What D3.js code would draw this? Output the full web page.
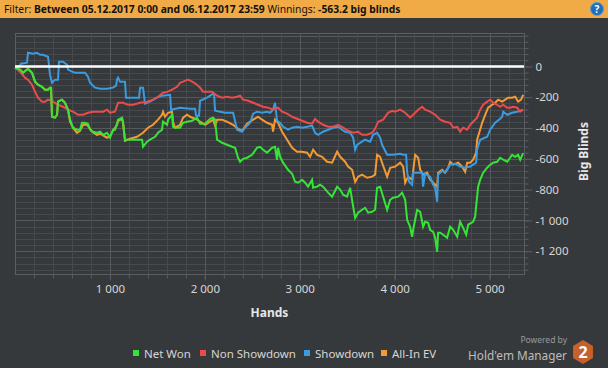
<!DOCTYPE html>
<html>
<head>
<meta charset="utf-8">
<script src="https://cdn.jsdelivr.net/npm/d3@7"></script>
<style>
  body { margin: 0; background: #36393c; }
  svg { display: block; font-family: "Noto Sans", sans-serif; }
</style>
</head>
<body>
<svg id="chart" width="608" height="368"></svg>
<script>
// cumulative big blinds, [hands, bb]
var netWon = [[0,-8],[53,-21],[85,-41],[137,-15],[179,-41],[211,-99],[242,-119],[285,-132],[316,-151],[348,-151],[369,-138],[380,-138],[390,-327],[422,-333],[443,-314],[453,-229],[495,-216],[527,-236],[559,-281],[580,-346],[611,-398],[653,-411],[685,-411],[706,-366],[738,-366],[769,-372],[791,-411],[822,-424],[864,-431],[896,-424],[928,-444],[970,-431],[1001,-463],[1033,-411],[1054,-411],[1075,-372],[1086,-346],[1128,-333],[1138,-359],[1159,-476],[1191,-476],[1244,-476],[1296,-476],[1339,-476],[1349,-522],[1391,-489],[1423,-476],[1476,-457],[1507,-431],[1549,-411],[1560,-359],[1602,-379],[1613,-346],[1655,-314],[1665,-392],[1686,-398],[1739,-398],[1771,-366],[1813,-359],[1866,-353],[1918,-333],[1950,-372],[2003,-372],[2055,-340],[2087,-333],[2108,-346],[2129,-476],[2182,-496],[2234,-509],[2287,-522],[2319,-528],[2350,-593],[2372,-619],[2403,-600],[2445,-593],[2498,-574],[2551,-528],[2582,-522],[2614,-541],[2656,-560],[2709,-528],[2740,-522],[2761,-606],[2772,-528],[2793,-587],[2825,-625],[2877,-671],[2920,-697],[2951,-749],[2983,-755],[3025,-736],[3057,-755],[3088,-781],[3130,-736],[3141,-788],[3183,-781],[3215,-768],[3246,-781],[3299,-820],[3341,-846],[3394,-781],[3426,-800],[3457,-833],[3499,-846],[3531,-788],[3563,-911],[3584,-983],[3615,-950],[3657,-931],[3689,-918],[3721,-950],[3763,-944],[3794,-931],[3815,-788],[3847,-781],[3879,-846],[3921,-931],[3953,-866],[3984,-853],[4037,-846],[4079,-820],[4111,-866],[4132,-996],[4163,-1041],[4184,-1106],[4195,-1061],[4216,-996],[4237,-931],[4269,-944],[4290,-1009],[4300,-1041],[4321,-1009],[4353,-1015],[4374,-1061],[4406,-1074],[4427,-1113],[4448,-1204],[4458,-1080],[4480,-1080],[4511,-1093],[4553,-1113],[4585,-1041],[4617,-1061],[4659,-1106],[4690,-1009],[4722,-1048],[4754,-1093],[4775,-1028],[4827,-1009],[4848,-976],[4869,-846],[4880,-781],[4901,-736],[4933,-690],[4975,-658],[5007,-638],[5038,-625],[5080,-619],[5112,-593],[5144,-606],[5186,-619],[5217,-593],[5238,-574],[5270,-587],[5301,-574],[5323,-606],[5354,-563]];

var nonShowdown = [[0,-8],[53,-34],[105,-73],[137,-86],[179,-119],[211,-164],[242,-203],[285,-229],[316,-229],[348,-216],[401,-229],[453,-249],[506,-262],[559,-281],[611,-294],[664,-314],[717,-314],[769,-301],[822,-294],[875,-294],[928,-294],[970,-281],[1001,-301],[1054,-294],[1086,-236],[1138,-236],[1191,-249],[1244,-249],[1318,-236],[1391,-229],[1455,-216],[1507,-197],[1560,-171],[1613,-164],[1655,-151],[1707,-132],[1739,-106],[1771,-99],[1823,-86],[1866,-99],[1918,-119],[1950,-138],[1982,-164],[2024,-164],[2076,-164],[2129,-190],[2182,-203],[2234,-197],[2287,-203],[2340,-197],[2372,-190],[2403,-216],[2456,-223],[2509,-236],[2561,-249],[2614,-262],[2667,-268],[2719,-281],[2772,-268],[2814,-294],[2867,-307],[2920,-327],[2972,-340],[3025,-353],[3078,-366],[3130,-372],[3162,-340],[3193,-359],[3246,-379],[3299,-392],[3352,-392],[3404,-379],[3457,-398],[3510,-418],[3563,-431],[3615,-424],[3657,-444],[3710,-444],[3763,-431],[3794,-405],[3826,-359],[3879,-346],[3931,-301],[3974,-288],[4005,-294],[4058,-281],[4111,-301],[4163,-333],[4195,-314],[4248,-281],[4290,-262],[4321,-281],[4374,-294],[4427,-314],[4480,-346],[4532,-359],[4585,-366],[4617,-398],[4659,-392],[4690,-424],[4722,-398],[4764,-411],[4796,-379],[4827,-359],[4869,-333],[4901,-281],[4933,-249],[4975,-229],[5007,-216],[5038,-236],[5080,-249],[5112,-262],[5144,-249],[5186,-268],[5217,-268],[5249,-262],[5291,-268],[5323,-294],[5354,-281]];

var showdown = [[0,0],[53,5],[63,18],[126,24],[137,89],[190,82],[232,89],[264,76],[295,76],[348,63],[369,-54],[390,-106],[422,-86],[453,-86],[464,31],[506,31],[548,11],[559,-21],[601,-34],[632,-41],[738,-41],[769,-67],[791,-106],[843,-138],[896,-145],[970,-145],[1033,-138],[1065,-125],[1075,-86],[1086,-73],[1107,-99],[1159,-99],[1170,-203],[1244,-203],[1307,-203],[1318,-138],[1349,-138],[1370,-242],[1423,-229],[1497,-203],[1549,-190],[1634,-184],[1644,-281],[1739,-268],[1845,-275],[1897,-275],[1908,-320],[1939,-320],[1950,-223],[2024,-203],[2087,-177],[2098,-184],[2108,-288],[2161,-294],[2213,-301],[2298,-301],[2340,-411],[2393,-424],[2424,-398],[2477,-366],[2509,-307],[2551,-294],[2603,-301],[2656,-294],[2688,-301],[2719,-281],[2740,-236],[2761,-353],[2793,-366],[2825,-392],[2877,-411],[2920,-398],[2972,-392],[3025,-398],[3078,-392],[3130,-385],[3162,-431],[3193,-444],[3246,-424],[3299,-411],[3352,-398],[3404,-392],[3447,-411],[3478,-424],[3531,-431],[3563,-463],[3584,-541],[3605,-509],[3636,-496],[3689,-476],[3742,-489],[3773,-444],[3815,-431],[3847,-463],[3868,-509],[3921,-574],[3984,-574],[4058,-567],[4090,-574],[4121,-574],[4132,-690],[4153,-749],[4184,-768],[4195,-690],[4248,-690],[4290,-690],[4300,-781],[4321,-697],[4374,-716],[4406,-768],[4427,-788],[4448,-879],[4458,-703],[4501,-677],[4532,-690],[4585,-638],[4638,-632],[4690,-651],[4743,-658],[4796,-651],[4827,-638],[4859,-625],[4869,-541],[4901,-476],[4975,-457],[5007,-411],[5059,-366],[5112,-340],[5133,-327],[5144,-294],[5186,-314],[5238,-301],[5291,-294],[5323,-288],[5354,-281]];

var allInEV = [[0,-8],[53,-21],[85,-41],[137,-15],[179,-41],[211,-99],[242,-119],[285,-132],[316,-151],[348,-151],[369,-138],[380,-138],[390,-327],[422,-333],[443,-314],[453,-229],[495,-216],[527,-236],[559,-285],[580,-359],[611,-398],[653,-431],[685,-418],[717,-379],[759,-379],[812,-424],[864,-444],[896,-437],[970,-463],[1001,-450],[1033,-418],[1075,-379],[1086,-353],[1128,-340],[1138,-366],[1159,-483],[1212,-470],[1286,-457],[1349,-431],[1402,-398],[1455,-379],[1507,-346],[1549,-314],[1560,-294],[1581,-327],[1613,-301],[1655,-294],[1665,-359],[1686,-398],[1739,-379],[1771,-333],[1813,-314],[1845,-327],[1918,-346],[1950,-359],[2003,-379],[2055,-359],[2087,-346],[2108,-385],[2129,-346],[2182,-346],[2234,-359],[2298,-379],[2350,-405],[2393,-418],[2445,-372],[2509,-346],[2561,-327],[2603,-346],[2656,-366],[2709,-379],[2719,-424],[2740,-346],[2772,-366],[2814,-424],[2867,-476],[2920,-528],[2972,-554],[3025,-554],[3078,-560],[3109,-587],[3141,-541],[3183,-574],[3236,-587],[3288,-619],[3341,-625],[3394,-554],[3426,-587],[3478,-619],[3510,-651],[3552,-671],[3584,-749],[3615,-716],[3657,-703],[3710,-723],[3763,-716],[3794,-703],[3815,-574],[3847,-587],[3879,-645],[3921,-716],[3953,-658],[4005,-651],[4058,-625],[4090,-651],[4111,-755],[4142,-716],[4184,-736],[4216,-574],[4248,-593],[4269,-671],[4300,-703],[4342,-690],[4374,-736],[4406,-755],[4448,-781],[4458,-690],[4501,-671],[4532,-690],[4564,-658],[4585,-619],[4617,-638],[4669,-625],[4711,-651],[4743,-684],[4764,-625],[4796,-625],[4827,-606],[4859,-560],[4869,-476],[4891,-431],[4922,-366],[4954,-314],[4985,-268],[5028,-249],[5059,-236],[5091,-216],[5133,-229],[5165,-216],[5196,-203],[5238,-203],[5270,-197],[5301,-229],[5333,-216],[5354,-184]];

var seriesNames = ["Net Won", "Non Showdown", "Showdown", "All-In EV"];
var seriesColors = ["#35e535", "#ea4b4b", "#3a9be0", "#f39a35"];
var xTicks = [1000, 2000, 3000, 4000, 5000];
var yTicks = [0, -200, -400, -600, -800, -1000, -1200];

var svg = d3.select("#chart");
var W = 608, H = 368;
var pLeft = 15, pRight = 524, pTop = 33, pBottom = 274;

var x = d3.scaleLinear().domain([0, 5363]).range([pLeft, pRight]);
var y = d3.scaleLinear().domain([-1348, 217]).range([pBottom, pTop]);

var loc = d3.formatLocale({decimal: ".", thousands: " ", grouping: [3], currency: ["", ""], minus: "-"});
var fmt = loc.format(",d");

svg.append("rect").attr("width", W).attr("height", H).attr("fill", "#36393c");

// header bar
svg.append("rect").attr("width", W).attr("height", 18).attr("fill", "#f0aa46");
var head = svg.append("text").attr("x", 4).attr("y", 13).attr("font-size", 10.3).attr("fill", "#111");
head.append("tspan").text("Filter: ");
head.append("tspan").attr("font-weight", "bold").text("Between 05.12.2017 0:00 and 06.12.2017 23:59");
head.append("tspan").text(" Winnings: ");
head.append("tspan").attr("font-weight", "bold").text("-563.2 big blinds");
svg.append("circle").attr("cx", 597).attr("cy", 9).attr("r", 6.5).attr("fill", "#1f6fb8").attr("stroke", "#5a9ad6").attr("stroke-width", 1);
svg.append("text").attr("x", 597).attr("y", 12.5).attr("text-anchor", "middle").attr("font-size", 10).attr("font-weight", "bold").attr("fill", "#fff").text("?");

// grid
var grid = svg.append("g");
grid.selectAll(".gy").data(d3.range(-1320, 217, 40)).enter().append("line")
  .attr("x1", pLeft).attr("x2", pRight)
  .attr("y1", function(d) { return Math.round(y(d)) + 0.5; })
  .attr("y2", function(d) { return Math.round(y(d)) + 0.5; })
  .attr("stroke", function(d) { return d % 200 === 0 ? "#56595d" : "#46494d"; });
grid.selectAll(".gx").data(d3.range(200, 5363, 200)).enter().append("line")
  .attr("y1", pTop).attr("y2", pBottom)
  .attr("x1", function(d) { return Math.round(x(d)) + 0.5; })
  .attr("x2", function(d) { return Math.round(x(d)) + 0.5; })
  .attr("stroke", function(d) { return d % 1000 === 0 ? "#56595d" : "#46494d"; });
svg.append("rect").attr("x", pLeft + 0.5).attr("y", pTop + 0.5)
  .attr("width", pRight - pLeft).attr("height", pBottom - pTop)
  .attr("fill", "none").attr("stroke", "#5a5d61");

// axes
var yAxisMinor = svg.append("g").attr("transform", "translate(" + (pRight + 0.5) + ",0)")
  .call(d3.axisRight(y).tickValues(d3.range(-1320, 217, 40)).tickSize(4).tickFormat(""));
var yAxis = svg.append("g").attr("transform", "translate(" + (pRight + 0.5) + ",0)")
  .call(d3.axisRight(y).tickValues(yTicks).tickSize(8).tickPadding(3).tickFormat(fmt));
var xAxisMinor = svg.append("g").attr("transform", "translate(0," + (pBottom + 0.5) + ")")
  .call(d3.axisBottom(x).tickValues(d3.range(200, 5363, 200)).tickSize(4).tickFormat(""));
var xAxis = svg.append("g").attr("transform", "translate(0," + (pBottom + 0.5) + ")")
  .call(d3.axisBottom(x).tickValues(xTicks).tickSize(6).tickPadding(4).tickFormat(fmt));
[yAxisMinor, yAxis, xAxisMinor, xAxis].forEach(function(a) {
  a.select(".domain").remove();
  a.selectAll("line").attr("stroke", "#5a5d61");
  a.selectAll("text").attr("fill", "#d6d6d6").attr("font-size", 11.5).attr("font-family", "Noto Sans, sans-serif");
});

svg.append("text").attr("transform", "translate(588," + ((pTop + pBottom) / 2 - 2) + ") rotate(-90)")
  .attr("text-anchor", "middle").attr("font-size", 12).attr("font-weight", "bold").attr("fill", "#e6e6e6").text("Big Blinds");
svg.append("text").attr("x", (pLeft + pRight) / 2).attr("y", 317)
  .attr("text-anchor", "middle").attr("font-size", 12).attr("font-weight", "bold").attr("fill", "#e6e6e6").text("Hands");

// series lines
var line = d3.line().x(function(d) { return x(d[0]); }).y(function(d) { return y(d[1]); });
var allSeries = [netWon, nonShowdown, showdown, allInEV];
var order = [3, 2, 1, 0];
var lines = svg.append("g");
order.forEach(function(i) {
  lines.append("path").datum(allSeries[i])
    .attr("fill", "none").attr("stroke", seriesColors[i]).attr("stroke-width", 2)
    .attr("stroke-linejoin", "miter").attr("d", line);
});

// zero line
svg.append("line").attr("x1", pLeft).attr("x2", pRight).attr("y1", y(0)).attr("y2", y(0))
  .attr("stroke", "#ffffff").attr("stroke-width", 2.5);

// legend
var legendX = [133, 200, 304, 381];
var legend = svg.append("g");
seriesNames.forEach(function(n, i) {
  legend.append("rect").attr("x", legendX[i]).attr("y", 350).attr("width", 6).attr("height", 6).attr("fill", seriesColors[i]);
  legend.append("text").attr("x", legendX[i] + 11).attr("y", 358).attr("font-size", 11.5).attr("fill", "#d6d6d6").text(n);
});

// branding
svg.append("text").attr("x", 567).attr("y", 343).attr("text-anchor", "end").attr("font-size", 8.5).attr("fill", "#9a9a9a").text("Powered by");
svg.append("text").attr("x", 567).attr("y", 360).attr("text-anchor", "end").attr("font-size", 11.8).attr("fill", "#bdbdbd").text("Hold'em Manager");
var hex = d3.range(6).map(function(k) {
  var a = Math.PI / 3 * k + Math.PI / 6;
  return [583 + 11.5 * Math.cos(a), 352 + 12 * Math.sin(a)];
});
svg.append("path").attr("d", "M" + hex.join("L") + "Z").attr("fill", "#c6612b");
svg.append("text").attr("x", 583).attr("y", 358).attr("text-anchor", "middle").attr("font-size", 16).attr("font-weight", "bold").attr("fill", "#fff").text("2");
</script>
</body>
</html>
